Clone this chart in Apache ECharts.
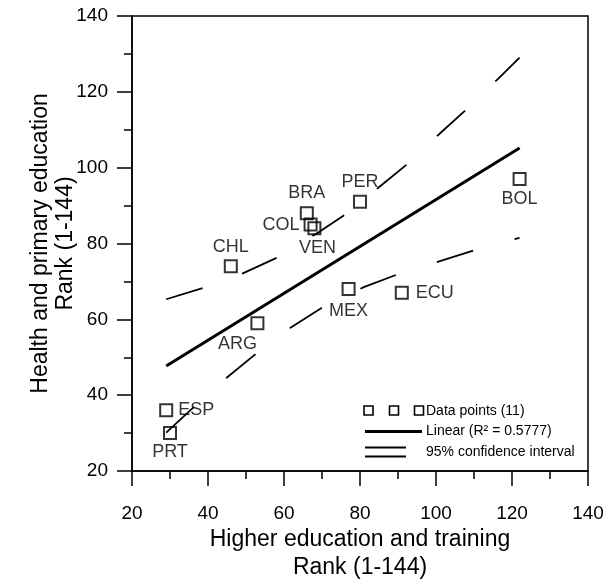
<!DOCTYPE html>
<html>
<head>
<meta charset="utf-8">
<script src="https://cdn.jsdelivr.net/npm/echarts@6/dist/echarts.min.js"></script>
<style>
  html, body { margin: 0; padding: 0; background: #fff; }
  #chart { width: 604px; height: 582px; }
</style>
</head>
<body>
<div id="chart"></div>
<script>
// countries and ranks
var countries = ['BRA', 'COL', 'VEN', 'PER', 'BOL', 'CHL', 'ARG', 'ESP', 'PRT', 'MEX', 'ECU'];
var higherEdRank = [66, 67, 68, 80, 122, 46, 53, 29, 30, 77, 91];
var healthRank = [88, 85, 84, 91, 97, 74, 59, 36, 30, 68, 67];

// linear fit end points
var fitX = [29, 122];
var fitY = [47.7, 105.2];

// 95% confidence band
var upperX = [29, 38.8, 49.3, 58.5, 69.5, 76.5, 85.3, 92.9, 101, 108.5, 116.4, 122];
var upperY = [65.3, 68.3, 72.2, 76.4, 83.2, 87.9, 95.1, 101.3, 109, 115.8, 123.5, 129];
var lowerX = [29, 36.4, 44.9, 52.6, 61.6, 70.2, 81, 89.7, 100.2, 110.1, 122];
var lowerY = [30.1, 37, 44.6, 50.9, 57.7, 63.2, 68.5, 71.8, 75.1, 78.2, 81.5];

var FONT = 'Arial, "Liberation Sans", sans-serif';

// where each country label sits
var labelPlace = {
  BRA: { position: 'top', distance: 4 },
  COL: { position: 'left', distance: 4 },
  VEN: { position: 'bottom', distance: 4, offset: [3, 0] },
  PER: { position: 'top', distance: 4 },
  BOL: { position: 'bottom', distance: 4 },
  CHL: { position: 'top', distance: 3 },
  ARG: { position: 'bottom', distance: 5, offset: [-20, 0] },
  ESP: { position: 'right', distance: 5 },
  PRT: { position: 'bottom', distance: 3 },
  MEX: { position: 'bottom', distance: 6 },
  ECU: { position: 'right', distance: 7 }
};

function pairs(xs, ys) {
  return xs.map(function (x, i) { return [x, ys[i]]; });
}

var points = countries.map(function (c, i) {
  return {
    name: c,
    value: [higherEdRank[i], healthRank[i]],
    label: labelPlace[c]
  };
});

var chart = echarts.init(document.getElementById('chart'));
var option = {
  backgroundColor: '#fff',
  animation: false,
  grid: {
    left: 132, top: 16, right: 16, bottom: 111,
    containLabel: false, outerBoundsMode: 'none',
    show: true, borderColor: '#000', borderWidth: 1.5
  },
  xAxis: {
    type: 'value', min: 20, max: 140, interval: 20,
    name: 'Higher education and training\nRank (1-144)',
    nameLocation: 'middle', nameGap: 55, nameMoveOverlap: false,
    nameTextStyle: { fontFamily: FONT, fontSize: 23, lineHeight: 28, color: '#000' },
    axisLine: { lineStyle: { color: '#000', width: 1.5 } },
    axisTick: { length: 15, lineStyle: { color: '#000', width: 1.5 } },
    minorTick: { show: true, splitNumber: 2, length: 8, lineStyle: { color: '#000', width: 1.5 } },
    splitLine: { show: false },
    axisLabel: { fontFamily: FONT, fontSize: 19, color: '#000', margin: 33 }
  },
  yAxis: {
    type: 'value', min: 20, max: 140, interval: 20,
    name: 'Health and primary education\nRank (1-144)',
    nameLocation: 'middle', nameGap: 54, nameRotate: 90, nameMoveOverlap: false,
    nameTextStyle: { fontFamily: FONT, fontSize: 23, lineHeight: 25, color: '#000' },
    axisLine: { lineStyle: { color: '#000', width: 1.5 } },
    axisTick: { length: 15, lineStyle: { color: '#000', width: 1.5 } },
    minorTick: { show: true, splitNumber: 2, length: 8, lineStyle: { color: '#000', width: 1.5 } },
    splitLine: { show: false },
    axisLabel: { fontFamily: FONT, fontSize: 19, color: '#000', margin: 24 }
  },
  series: [
    {
      name: 'Linear',
      type: 'line',
      data: pairs(fitX, fitY),
      showSymbol: false,
      lineStyle: { color: '#000', width: 3 },
      z: 2
    },
    {
      name: 'upper',
      type: 'line',
      data: pairs(upperX, upperY),
      showSymbol: false,
      lineStyle: { color: '#000', width: 1.8, type: [38, 42] },
      z: 2
    },
    {
      name: 'lower',
      type: 'line',
      data: pairs(lowerX, lowerY),
      showSymbol: false,
      lineStyle: { color: '#000', width: 1.8, type: [38, 43] },
      z: 2
    },
    {
      name: 'Data points',
      type: 'scatter',
      symbol: 'rect',
      symbolSize: 12,
      itemStyle: { color: 'rgba(0,0,0,0)', borderColor: '#000', borderWidth: 2 },
      label: {
        show: true,
        formatter: '{b}',
        fontFamily: FONT, fontSize: 18, color: '#000'
      },
      data: points,
      z: 3
    }
  ],
  graphic: [
    // legend
    { type: 'rect', shape: { x: 364, y: 406, width: 9, height: 9 }, style: { fill: 'none', stroke: '#000', lineWidth: 1.6 } },
    { type: 'rect', shape: { x: 389.5, y: 406, width: 9, height: 9 }, style: { fill: 'none', stroke: '#000', lineWidth: 1.6 } },
    { type: 'rect', shape: { x: 414.5, y: 406, width: 9, height: 9 }, style: { fill: 'none', stroke: '#000', lineWidth: 1.6 } },
    { type: 'text', x: 426, y: 411, style: { text: 'Data points (11)', font: '14px ' + FONT, fill: '#000', verticalAlign: 'middle' } },
    { type: 'line', shape: { x1: 365, y1: 431.5, x2: 422, y2: 431.5 }, style: { stroke: '#000', lineWidth: 3 } },
    { type: 'text', x: 426, y: 431.5, style: { text: 'Linear (R² = 0.5777)', font: '14px ' + FONT, fill: '#000', verticalAlign: 'middle' } },
    { type: 'line', shape: { x1: 365, y1: 447.5, x2: 406, y2: 447.5 }, style: { stroke: '#000', lineWidth: 1.8 } },
    { type: 'line', shape: { x1: 365, y1: 456.5, x2: 406, y2: 456.5 }, style: { stroke: '#000', lineWidth: 1.8 } },
    { type: 'text', x: 426, y: 452, style: { text: '95% confidence interval', font: '14px ' + FONT, fill: '#000', verticalAlign: 'middle' } }
  ]
};
chart.setOption(option);
</script>
</body>
</html>
